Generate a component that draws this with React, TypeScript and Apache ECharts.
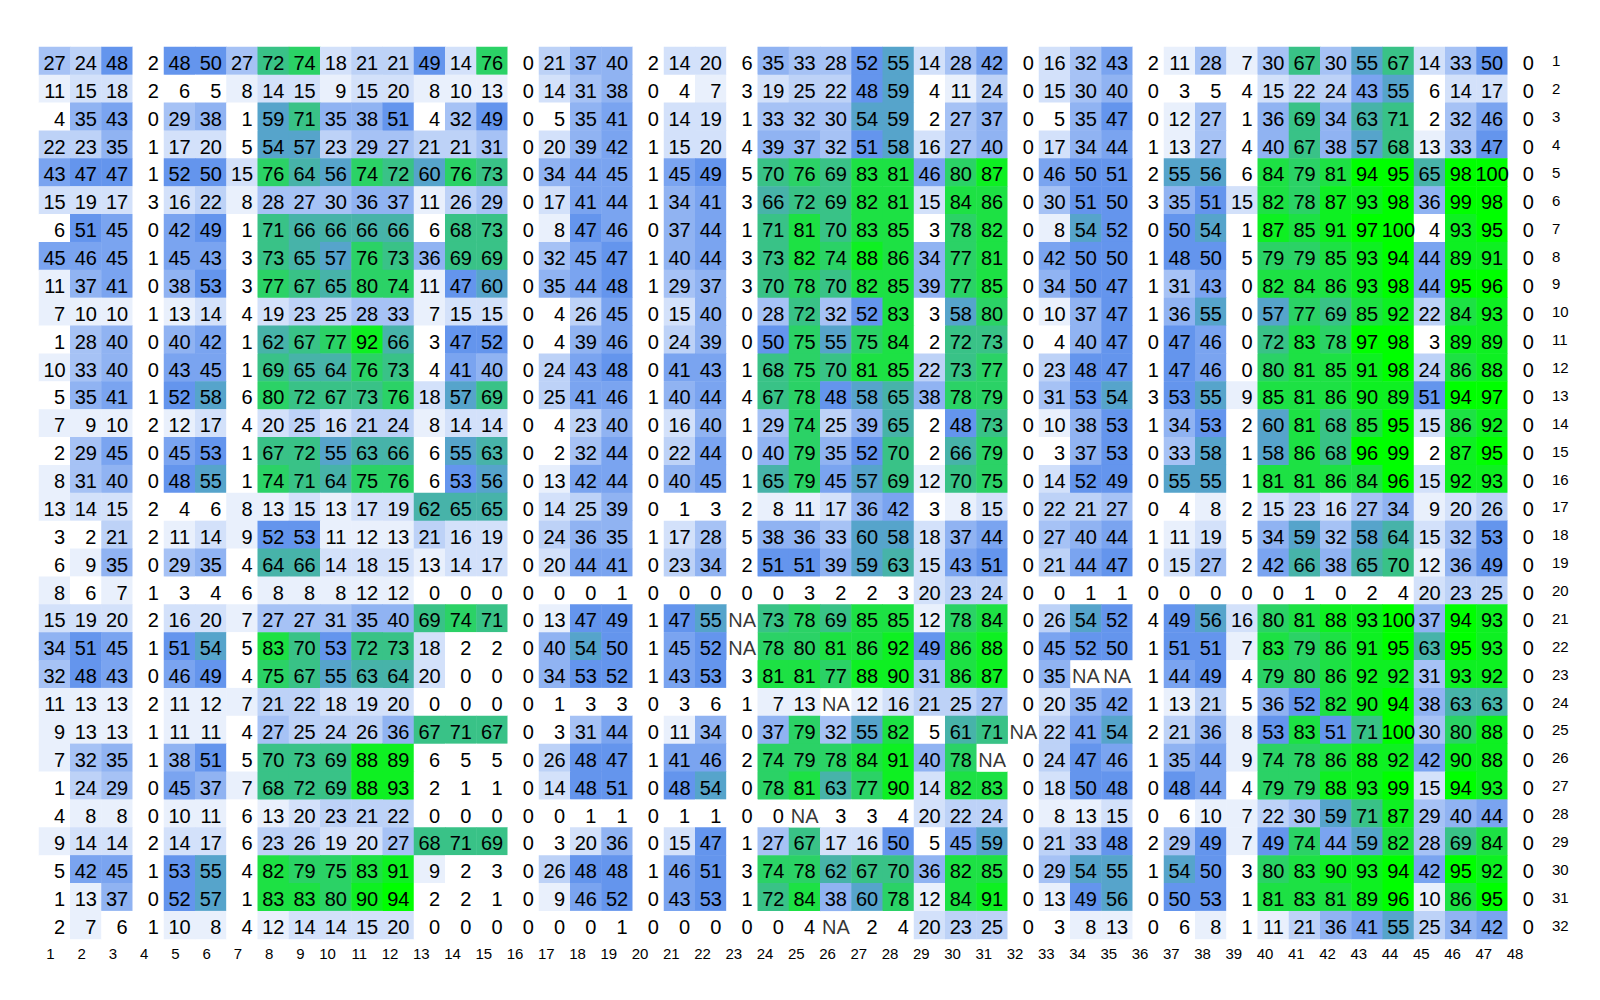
import React, { useEffect, useRef } from "react";
import * as echarts from "echarts";

type V = number | null;
const NA: V = null;

const row1: V[] = [27, 24, 48, 2, 48, 50, 27, 72, 74, 18, 21, 21, 49, 14, 76, 0, 21, 37, 40, 2, 14, 20, 6, 35, 33, 28, 52, 55, 14, 28, 42, 0, 16, 32, 43, 2, 11, 28, 7, 30, 67, 30, 55, 67, 14, 33, 50, 0];
const row2: V[] = [11, 15, 18, 2, 6, 5, 8, 14, 15, 9, 15, 20, 8, 10, 13, 0, 14, 31, 38, 0, 4, 7, 3, 19, 25, 22, 48, 59, 4, 11, 24, 0, 15, 30, 40, 0, 3, 5, 4, 15, 22, 24, 43, 55, 6, 14, 17, 0];
const row3: V[] = [4, 35, 43, 0, 29, 38, 1, 59, 71, 35, 38, 51, 4, 32, 49, 0, 5, 35, 41, 0, 14, 19, 1, 33, 32, 30, 54, 59, 2, 27, 37, 0, 5, 35, 47, 0, 12, 27, 1, 36, 69, 34, 63, 71, 2, 32, 46, 0];
const row4: V[] = [22, 23, 35, 1, 17, 20, 5, 54, 57, 23, 29, 27, 21, 21, 31, 0, 20, 39, 42, 1, 15, 20, 4, 39, 37, 32, 51, 58, 16, 27, 40, 0, 17, 34, 44, 1, 13, 27, 4, 40, 67, 38, 57, 68, 13, 33, 47, 0];
const row5: V[] = [43, 47, 47, 1, 52, 50, 15, 76, 64, 56, 74, 72, 60, 76, 73, 0, 34, 44, 45, 1, 45, 49, 5, 70, 76, 69, 83, 81, 46, 80, 87, 0, 46, 50, 51, 2, 55, 56, 6, 84, 79, 81, 94, 95, 65, 98, 100, 0];
const row6: V[] = [15, 19, 17, 3, 16, 22, 8, 28, 27, 30, 36, 37, 11, 26, 29, 0, 17, 41, 44, 1, 34, 41, 3, 66, 72, 69, 82, 81, 15, 84, 86, 0, 30, 51, 50, 3, 35, 51, 15, 82, 78, 87, 93, 98, 36, 99, 98, 0];
const row7: V[] = [6, 51, 45, 0, 42, 49, 1, 71, 66, 66, 66, 66, 6, 68, 73, 0, 8, 47, 46, 0, 37, 44, 1, 71, 81, 70, 83, 85, 3, 78, 82, 0, 8, 54, 52, 0, 50, 54, 1, 87, 85, 91, 97, 100, 4, 93, 95, 0];
const row8: V[] = [45, 46, 45, 1, 45, 43, 3, 73, 65, 57, 76, 73, 36, 69, 69, 0, 32, 45, 47, 1, 40, 44, 3, 73, 82, 74, 88, 86, 34, 77, 81, 0, 42, 50, 50, 1, 48, 50, 5, 79, 79, 85, 93, 94, 44, 89, 91, 0];
const row9: V[] = [11, 37, 41, 0, 38, 53, 3, 77, 67, 65, 80, 74, 11, 47, 60, 0, 35, 44, 48, 1, 29, 37, 3, 70, 78, 70, 82, 85, 39, 77, 85, 0, 34, 50, 47, 1, 31, 43, 0, 82, 84, 86, 93, 98, 44, 95, 96, 0];
const row10: V[] = [7, 10, 10, 1, 13, 14, 4, 19, 23, 25, 28, 33, 7, 15, 15, 0, 4, 26, 45, 0, 15, 40, 0, 28, 72, 32, 52, 83, 3, 58, 80, 0, 10, 37, 47, 1, 36, 55, 0, 57, 77, 69, 85, 92, 22, 84, 93, 0];
const row11: V[] = [1, 28, 40, 0, 40, 42, 1, 62, 67, 77, 92, 66, 3, 47, 52, 0, 4, 39, 46, 0, 24, 39, 0, 50, 75, 55, 75, 84, 2, 72, 73, 0, 4, 40, 47, 0, 47, 46, 0, 72, 83, 78, 97, 98, 3, 89, 89, 0];
const row12: V[] = [10, 33, 40, 0, 43, 45, 1, 69, 65, 64, 76, 73, 4, 41, 40, 0, 24, 43, 48, 0, 41, 43, 1, 68, 75, 70, 81, 85, 22, 73, 77, 0, 23, 48, 47, 1, 47, 46, 0, 80, 81, 85, 91, 98, 24, 86, 88, 0];
const row13: V[] = [5, 35, 41, 1, 52, 58, 6, 80, 72, 67, 73, 76, 18, 57, 69, 0, 25, 41, 46, 1, 40, 44, 4, 67, 78, 48, 58, 65, 38, 78, 79, 0, 31, 53, 54, 3, 53, 55, 9, 85, 81, 86, 90, 89, 51, 94, 97, 0];
const row14: V[] = [7, 9, 10, 2, 12, 17, 4, 20, 25, 16, 21, 24, 8, 14, 14, 0, 4, 23, 40, 0, 16, 40, 1, 29, 74, 25, 39, 65, 2, 48, 73, 0, 10, 38, 53, 1, 34, 53, 2, 60, 81, 68, 85, 95, 15, 86, 92, 0];
const row15: V[] = [2, 29, 45, 0, 45, 53, 1, 67, 72, 55, 63, 66, 6, 55, 63, 0, 2, 32, 44, 0, 22, 44, 0, 40, 79, 35, 52, 70, 2, 66, 79, 0, 3, 37, 53, 0, 33, 58, 1, 58, 86, 68, 96, 99, 2, 87, 95, 0];
const row16: V[] = [8, 31, 40, 0, 48, 55, 1, 74, 71, 64, 75, 76, 6, 53, 56, 0, 13, 42, 44, 0, 40, 45, 1, 65, 79, 45, 57, 69, 12, 70, 75, 0, 14, 52, 49, 0, 55, 55, 1, 81, 81, 86, 84, 96, 15, 92, 93, 0];
const row17: V[] = [13, 14, 15, 2, 4, 6, 8, 13, 15, 13, 17, 19, 62, 65, 65, 0, 14, 25, 39, 0, 1, 3, 2, 8, 11, 17, 36, 42, 3, 8, 15, 0, 22, 21, 27, 0, 4, 8, 2, 15, 23, 16, 27, 34, 9, 20, 26, 0];
const row18: V[] = [3, 2, 21, 2, 11, 14, 9, 52, 53, 11, 12, 13, 21, 16, 19, 0, 24, 36, 35, 1, 17, 28, 5, 38, 36, 33, 60, 58, 18, 37, 44, 0, 27, 40, 44, 1, 11, 19, 5, 34, 59, 32, 58, 64, 15, 32, 53, 0];
const row19: V[] = [6, 9, 35, 0, 29, 35, 4, 64, 66, 14, 18, 15, 13, 14, 17, 0, 20, 44, 41, 0, 23, 34, 2, 51, 51, 39, 59, 63, 15, 43, 51, 0, 21, 44, 47, 0, 15, 27, 2, 42, 66, 38, 65, 70, 12, 36, 49, 0];
const row20: V[] = [8, 6, 7, 1, 3, 4, 6, 8, 8, 8, 12, 12, 0, 0, 0, 0, 0, 0, 1, 0, 0, 0, 0, 0, 3, 2, 2, 3, 20, 23, 24, 0, 0, 1, 1, 0, 0, 0, 0, 0, 1, 0, 2, 4, 20, 23, 25, 0];
const row21: V[] = [15, 19, 20, 2, 16, 20, 7, 27, 27, 31, 35, 40, 69, 74, 71, 0, 13, 47, 49, 1, 47, 55, NA, 73, 78, 69, 85, 85, 12, 78, 84, 0, 26, 54, 52, 4, 49, 56, 16, 80, 81, 88, 93, 100, 37, 94, 93, 0];
const row22: V[] = [34, 51, 45, 1, 51, 54, 5, 83, 70, 53, 72, 73, 18, 2, 2, 0, 40, 54, 50, 1, 45, 52, NA, 78, 80, 81, 86, 92, 49, 86, 88, 0, 45, 52, 50, 1, 51, 51, 7, 83, 79, 86, 91, 95, 63, 95, 93, 0];
const row23: V[] = [32, 48, 43, 0, 46, 49, 4, 75, 67, 55, 63, 64, 20, 0, 0, 0, 34, 53, 52, 1, 43, 53, 3, 81, 81, 77, 88, 90, 31, 86, 87, 0, 35, NA, NA, 1, 44, 49, 4, 79, 80, 86, 92, 92, 31, 93, 92, 0];
const row24: V[] = [11, 13, 13, 2, 11, 12, 7, 21, 22, 18, 19, 20, 0, 0, 0, 0, 1, 3, 3, 0, 3, 6, 1, 7, 13, NA, 12, 16, 21, 25, 27, 0, 20, 35, 42, 1, 13, 21, 5, 36, 52, 82, 90, 94, 38, 63, 63, 0];
const row25: V[] = [9, 13, 13, 1, 11, 11, 4, 27, 25, 24, 26, 36, 67, 71, 67, 0, 3, 31, 44, 0, 11, 34, 0, 37, 79, 32, 55, 82, 5, 61, 71, NA, 22, 41, 54, 2, 21, 36, 8, 53, 83, 51, 71, 100, 30, 80, 88, 0];
const row26: V[] = [7, 32, 35, 1, 38, 51, 5, 70, 73, 69, 88, 89, 6, 5, 5, 0, 26, 48, 47, 1, 41, 46, 2, 74, 79, 78, 84, 91, 40, 78, NA, 0, 24, 47, 46, 1, 35, 44, 9, 74, 78, 86, 88, 92, 42, 90, 88, 0];
const row27: V[] = [1, 24, 29, 0, 45, 37, 7, 68, 72, 69, 88, 93, 2, 1, 1, 0, 14, 48, 51, 0, 48, 54, 0, 78, 81, 63, 77, 90, 14, 82, 83, 0, 18, 50, 48, 0, 48, 44, 4, 79, 79, 88, 93, 99, 15, 94, 93, 0];
const row28: V[] = [4, 8, 8, 0, 10, 11, 6, 13, 20, 23, 21, 22, 0, 0, 0, 0, 0, 1, 1, 0, 1, 1, 0, 0, NA, 3, 3, 4, 20, 22, 24, 0, 8, 13, 15, 0, 6, 10, 7, 22, 30, 59, 71, 87, 29, 40, 44, 0];
const row29: V[] = [9, 14, 14, 2, 14, 17, 6, 23, 26, 19, 20, 27, 68, 71, 69, 0, 3, 20, 36, 0, 15, 47, 1, 27, 67, 17, 16, 50, 5, 45, 59, 0, 21, 33, 48, 2, 29, 49, 7, 49, 74, 44, 59, 82, 28, 69, 84, 0];
const row30: V[] = [5, 42, 45, 1, 53, 55, 4, 82, 79, 75, 83, 91, 9, 2, 3, 0, 26, 48, 48, 1, 46, 51, 3, 74, 78, 62, 67, 70, 36, 82, 85, 0, 29, 54, 55, 1, 54, 50, 3, 80, 83, 90, 93, 94, 42, 95, 92, 0];
const row31: V[] = [1, 13, 37, 0, 52, 57, 1, 83, 83, 80, 90, 94, 2, 2, 1, 0, 9, 46, 52, 0, 43, 53, 1, 72, 84, 38, 60, 78, 12, 84, 91, 0, 13, 49, 56, 0, 50, 53, 1, 81, 83, 81, 89, 96, 10, 86, 95, 0];
const row32: V[] = [2, 7, 6, 1, 10, 8, 4, 12, 14, 14, 15, 20, 0, 0, 0, 0, 0, 0, 1, 0, 0, 0, 0, 0, 4, NA, 2, 4, 20, 23, 25, 0, 3, 8, 13, 0, 6, 8, 1, 11, 21, 36, 41, 55, 25, 34, 42, 0];

const rows: V[][] = [
  row1, row2, row3, row4, row5, row6, row7, row8, row9, row10, row11, row12, row13, row14, row15, row16,
  row17, row18, row19, row20, row21, row22, row23, row24, row25, row26, row27, row28, row29, row30, row31, row32,
];

const colLabels = ["1", "2", "3", "4", "5", "6", "7", "8", "9", "10", "11", "12", "13", "14", "15", "16", "17", "18", "19", "20", "21", "22", "23", "24", "25", "26", "27", "28", "29", "30", "31", "32", "33", "34", "35", "36", "37", "38", "39", "40", "41", "42", "43", "44", "45", "46", "47", "48"];
const rowLabels = ["1", "2", "3", "4", "5", "6", "7", "8", "9", "10", "11", "12", "13", "14", "15", "16", "17", "18", "19", "20", "21", "22", "23", "24", "25", "26", "27", "28", "29", "30", "31", "32"];

// colour ramp white -> cornflowerblue -> green, 15 bins over 0..100
const rampAnchors = [[255, 255, 255], [100, 149, 237], [0, 255, 0]];
const nBins = 15;
function rampColor(i: number): string {
  const t = (i / (nBins - 1)) * (rampAnchors.length - 1);
  const k = Math.min(Math.floor(t), rampAnchors.length - 2);
  const f = t - k;
  const a = rampAnchors[k];
  const b = rampAnchors[k + 1];
  const c = a.map((v, j) => Math.round(v + (b[j] - v) * f));
  return `rgb(${c[0]},${c[1]},${c[2]})`;
}
const pieces = Array.from({ length: nBins }, (_, i) => {
  const lo = (i * 100) / nBins;
  const hi = ((i + 1) * 100) / nBins;
  return i === 0 ? { gte: -0.5, lte: hi + 1e-9, color: rampColor(i) } : { gt: lo + 1e-9, lte: hi + 1e-9, color: rampColor(i) };
});

const FONT = "Liberation Sans, Arial, sans-serif";

export default function App() {
  const ref = useRef<HTMLDivElement>(null);
  useEffect(() => {
    document.body.style.margin = "0";
    if (!ref.current) return;
    const chart = echarts.init(ref.current, null, { renderer: "svg" });
    const cellData: any[] = [];
    const naData: any[] = [];
    rows.forEach((r, ri) =>
      r.forEach((v, ci) => {
        if (v === null) naData.push([ci, ri]);
        else if (v < 10) cellData.push({ value: [ci, ri, v], label: { offset: [5, 2] } });
        else cellData.push({ value: [ci, ri, v] });
      })
    );
    chart.setOption({
      animation: false,
      backgroundColor: "#ffffff",
      grid: { left: 39, top: 47, width: 1500, height: 892 },
      xAxis: {
        type: "category",
        data: colLabels,
        position: "bottom",
        axisLine: { show: false },
        axisTick: { show: false },
        splitLine: { show: false },
        splitArea: { show: false },
        axisLabel: { interval: 0, fontSize: 15, color: "#000", fontFamily: FONT, margin: 7, align: "right" },
      },
      yAxis: {
        type: "category",
        data: rowLabels,
        inverse: true,
        position: "right",
        axisLine: { show: false },
        axisTick: { show: false },
        splitLine: { show: false },
        splitArea: { show: false },
        axisLabel: { interval: 0, fontSize: 15, color: "#000", fontFamily: FONT, margin: 13, align: "left" },
      },
      visualMap: {
        type: "piecewise",
        show: false,
        seriesIndex: 0,
        dimension: 2,
        pieces,
      },
      series: [
        {
          type: "heatmap",
          data: cellData,
          label: {
            show: true,
            color: "#000",
            fontSize: 20,
            fontFamily: FONT,
            offset: [0, 2],
            formatter: (p: any) => String(p.value[2]),
          },
          emphasis: { disabled: true },
        },
        {
          type: "scatter",
          data: naData,
          symbol: "rect",
          symbolSize: [31, 28],
          itemStyle: { color: "#ffffff" },
          label: {
            show: true,
            position: "inside",
            color: "#000",
            fontSize: 20,
            fontFamily: FONT,
            offset: [0, 2],
            formatter: () => "NA",
          },
          emphasis: { disabled: true },
        },
      ],
    });
    return () => chart.dispose();
  }, []);
  return <div ref={ref} style={{ width: 1600, height: 1000 }} />;
}
